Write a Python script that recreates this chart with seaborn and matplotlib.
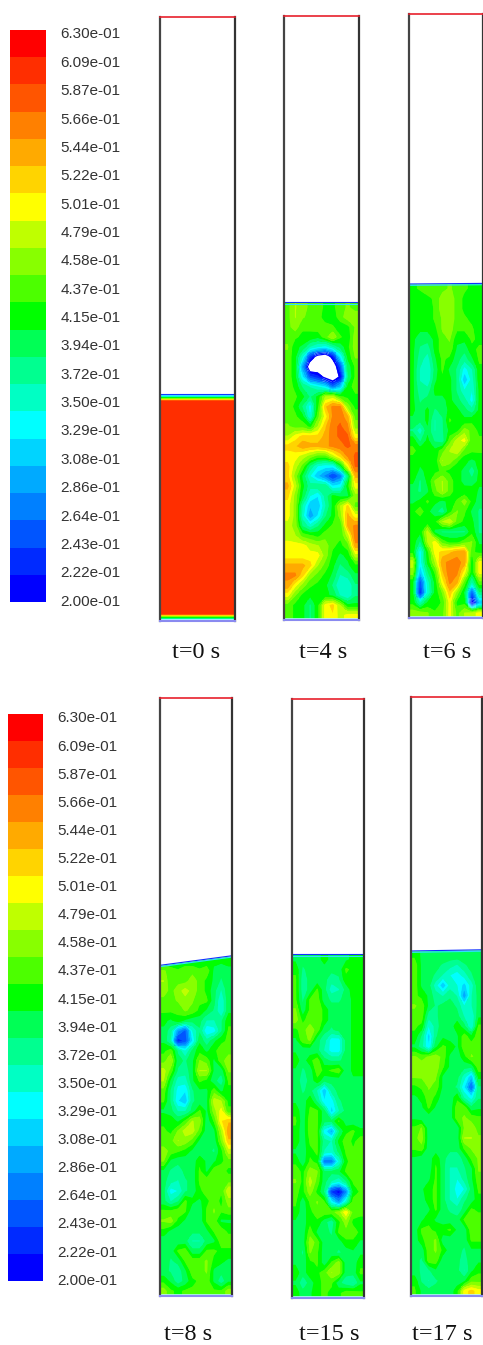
import numpy as np
import matplotlib
matplotlib.use('Agg')
import matplotlib.pyplot as plt
from matplotlib.colors import ListedColormap, BoundaryNorm
import seaborn as sns

# legend labels and the colours of the contour bands, top to bottom
legend_labels = ['6.30e-01', '6.09e-01', '5.87e-01', '5.66e-01', '5.44e-01', '5.22e-01', '5.01e-01',
                 '4.79e-01', '4.58e-01', '4.37e-01', '4.15e-01', '3.94e-01', '3.72e-01', '3.50e-01',
                 '3.29e-01', '3.08e-01', '2.86e-01', '2.64e-01', '2.43e-01', '2.22e-01', '2.00e-01']
legend_values = [float(s) for s in legend_labels]
band_colors = ['#ff0000', '#ff2e00', '#ff5500', '#ff8000', '#ffaa00', '#ffd400', '#ffff00',
               '#bfff00', '#88ff00', '#4cff00', '#00ff00', '#00ff55', '#00ff90', '#00ffc4',
               '#00ffff', '#00d4ff', '#00aaff', '#0080ff', '#0055ff', '#002aff', '#0000ff']

# volume fraction x100 (top of bed first). 15 = below range, not drawn
t0_void = [21, 33, 42, 50] + [61] * 142 + [50, 42, 36, 30]

t4_void = [
    [44, 47, 46, 44, 44, 42, 42, 44, 45, 44],
    [44, 47, 45, 44, 44, 41, 41, 44, 46, 46],
    [44, 46, 43, 43, 44, 44, 43, 41, 42, 45],
    [44, 43, 42, 42, 41, 44, 47, 43, 41, 46],
    [45, 41, 40, 36, 34, 33, 36, 39, 42, 46],
    [44, 41, 34, 23, 17, 15, 21, 32, 41, 45],
    [44, 41, 28, 15, 15, 15, 15, 24, 39, 43],
    [44, 41, 32, 24, 22, 18, 15, 20, 38, 43],
    [44, 42, 38, 36, 34, 32, 26, 30, 41, 44],
    [44, 43, 41, 38, 41, 47, 48, 43, 42, 42],
    [44, 42, 38, 33, 42, 53, 56, 56, 46, 42],
    [44, 43, 41, 34, 44, 50, 56, 57, 54, 44],
    [45, 44, 44, 42, 47, 53, 57, 58, 56, 46],
    [47, 50, 52, 52, 52, 54, 57, 58, 58, 50],
    [52, 53, 55, 54, 54, 55, 56, 57, 58, 57],
    [50, 50, 48, 46, 44, 44, 48, 52, 56, 58],
    [52, 48, 44, 38, 34, 33, 33, 40, 50, 58],
    [52, 46, 40, 34, 30, 27, 23, 26, 38, 54],
    [54, 48, 41, 37, 38, 38, 32, 33, 42, 50],
    [52, 46, 40, 34, 32, 37, 41, 40, 40, 46],
    [50, 46, 36, 30, 30, 36, 41, 47, 52, 44],
    [50, 46, 35, 28, 32, 38, 41, 46, 54, 50],
    [48, 46, 38, 35, 38, 41, 43, 43, 54, 56],
    [48, 47, 44, 43, 42, 44, 44, 43, 48, 57],
    [50, 50, 50, 48, 47, 46, 43, 42, 44, 55],
    [50, 50, 50, 50, 50, 46, 42, 40, 41, 48],
    [54, 54, 54, 52, 47, 44, 41, 38, 40, 42],
    [56, 56, 52, 46, 44, 42, 40, 36, 37, 40],
    [55, 50, 46, 43, 42, 41, 38, 34, 34, 38],
    [50, 45, 42, 41, 41, 41, 40, 36, 34, 38],
    [44, 42, 41, 38, 42, 50, 52, 47, 41, 41],
    [44, 42, 41, 38, 42, 50, 51, 48, 50, 50],
]

t6_void = [
    [42, 43, 44, 44, 44, 45, 44, 43, 42, 42],
    [41, 41, 42, 43, 46, 46, 44, 42, 41, 41],
    [41, 41, 41, 43, 46, 46, 44, 42, 41, 41],
    [41, 41, 41, 43, 45, 46, 44, 43, 42, 41],
    [41, 41, 41, 42, 45, 46, 43, 43, 43, 41],
    [41, 39, 39, 41, 44, 45, 41, 41, 43, 42],
    [41, 38, 37, 41, 44, 44, 40, 39, 42, 43],
    [41, 37, 35, 40, 43, 42, 39, 37, 40, 43],
    [41, 36, 34, 39, 43, 40, 38, 33, 36, 42],
    [41, 36, 34, 40, 42, 41, 38, 30, 35, 42],
    [41, 37, 37, 41, 41, 41, 38, 34, 34, 41],
    [41, 38, 39, 40, 40, 41, 39, 37, 33, 41],
    [41, 39, 41, 38, 39, 41, 41, 39, 37, 41],
    [40, 39, 41, 36, 38, 43, 41, 41, 42, 41],
    [38, 35, 40, 36, 38, 41, 42, 46, 44, 42],
    [42, 38, 41, 38, 37, 44, 48, 50, 43, 43],
    [43, 42, 41, 41, 44, 47, 49, 44, 43, 43],
    [42, 41, 41, 41, 47, 46, 43, 41, 40, 41],
    [42, 40, 41, 42, 43, 42, 41, 40, 37, 41],
    [41, 38, 41, 45, 47, 44, 41, 40, 39, 41],
    [39, 38, 40, 44, 47, 44, 41, 41, 42, 40],
    [40, 41, 43, 41, 40, 41, 43, 46, 42, 39],
    [42, 44, 41, 39, 37, 42, 45, 43, 40, 38],
    [41, 41, 41, 42, 47, 49, 44, 42, 41, 38],
    [42, 41, 48, 40, 38, 38, 38, 38, 42, 38],
    [42, 38, 47, 50, 44, 42, 42, 44, 45, 40],
    [42, 33, 42, 50, 52, 53, 55, 55, 43, 42],
    [48, 33, 41, 47, 55, 56, 56, 55, 41, 50],
    [46, 30, 38, 43, 53, 57, 56, 50, 41, 50],
    [41, 24, 35, 41, 50, 56, 54, 44, 36, 44],
    [41, 22, 34, 41, 45, 53, 46, 40, 25, 38],
    [42, 36, 41, 41, 43, 50, 42, 42, 18, 30],
    [46, 46, 45, 43, 44, 50, 44, 47, 48, 50],
]

t8_void = [
    [41, 40, 40, 41, 41, 41, 41, 41, 41, 41],
    [45, 44, 43, 44, 44, 43, 44, 40, 39, 40],
    [47, 43, 44, 44, 46, 44, 42, 40, 38, 40],
    [46, 44, 46, 48, 46, 44, 42, 39, 36, 40],
    [44, 44, 45, 46, 45, 43, 43, 39, 34, 40],
    [43, 43, 43, 45, 44, 42, 40, 38, 34, 40],
    [41, 40, 42, 40, 39, 39, 36, 36, 38, 42],
    [40, 37, 28, 25, 34, 38, 32, 33, 38, 43],
    [40, 36, 22, 24, 32, 40, 37, 40, 42, 43],
    [42, 44, 38, 34, 39, 42, 40, 42, 44, 44],
    [44, 47, 39, 38, 40, 45, 44, 40, 44, 46],
    [48, 44, 38, 37, 40, 47, 47, 40, 39, 45],
    [47, 40, 35, 35, 40, 43, 42, 39, 37, 43],
    [44, 38, 33, 32, 38, 40, 40, 44, 40, 42],
    [43, 38, 32, 30, 38, 39, 40, 48, 47, 42],
    [40, 39, 36, 36, 39, 43, 40, 46, 50, 43],
    [42, 42, 40, 43, 47, 46, 39, 43, 51, 53],
    [43, 42, 45, 48, 48, 44, 39, 40, 47, 55],
    [43, 44, 47, 46, 44, 40, 39, 39, 45, 53],
    [46, 44, 43, 42, 40, 39, 39, 38, 42, 48],
    [45, 40, 39, 39, 39, 42, 40, 40, 42, 44],
    [40, 38, 37, 39, 39, 43, 40, 44, 44, 42],
    [39, 37, 36, 38, 39, 43, 44, 44, 44, 44],
    [39, 33, 34, 38, 39, 42, 44, 44, 43, 49],
    [39, 36, 38, 43, 41, 40, 42, 44, 42, 46],
    [43, 43, 44, 43, 39, 39, 43, 45, 43, 44],
    [45, 46, 42, 40, 39, 39, 43, 44, 40, 40],
    [42, 40, 39, 39, 39, 39, 40, 43, 44, 42],
    [39, 39, 39, 39, 36, 36, 39, 40, 44, 44],
    [39, 39, 43, 44, 39, 39, 43, 43, 42, 42],
    [40, 38, 39, 43, 44, 44, 45, 42, 41, 40],
    [39, 38, 37, 40, 44, 44, 45, 40, 39, 40],
    [42, 40, 37, 39, 42, 43, 44, 40, 37, 40],
    [46, 43, 42, 43, 43, 43, 43, 43, 43, 46],
]

t15_void = [
    [40, 39, 39, 39, 42, 39, 39, 40, 41, 41],
    [42, 38, 39, 39, 39, 39, 39, 43, 42, 41],
    [43, 37, 39, 39, 39, 37, 38, 42, 42, 41],
    [43, 37, 39, 43, 39, 35, 36, 39, 42, 41],
    [43, 38, 43, 44, 39, 38, 38, 39, 41, 41],
    [45, 39, 43, 44, 42, 39, 39, 39, 41, 41],
    [46, 42, 44, 44, 42, 39, 39, 39, 41, 41],
    [42, 44, 46, 44, 39, 38, 39, 39, 41, 41],
    [40, 44, 45, 39, 37, 33, 33, 39, 41, 41],
    [40, 39, 39, 39, 36, 33, 33, 39, 41, 41],
    [42, 39, 42, 44, 39, 38, 38, 39, 41, 41],
    [40, 38, 39, 44, 42, 43, 44, 39, 41, 41],
    [40, 37, 39, 42, 39, 39, 39, 39, 40, 40],
    [40, 38, 39, 36, 30, 37, 39, 39, 39, 39],
    [40, 39, 42, 38, 32, 33, 38, 39, 39, 39],
    [42, 39, 43, 43, 39, 31, 36, 39, 39, 39],
    [43, 39, 44, 43, 39, 39, 43, 39, 39, 39],
    [42, 39, 44, 43, 33, 29, 38, 42, 43, 41],
    [42, 39, 43, 43, 37, 36, 41, 44, 42, 44],
    [40, 39, 42, 43, 36, 35, 39, 43, 43, 43],
    [42, 39, 43, 42, 26, 26, 34, 42, 44, 43],
    [44, 42, 46, 45, 39, 39, 40, 43, 44, 43],
    [45, 42, 48, 44, 39, 36, 34, 38, 43, 44],
    [43, 42, 46, 42, 38, 23, 20, 27, 41, 43],
    [43, 39, 43, 45, 43, 33, 28, 35, 44, 44],
    [42, 39, 42, 44, 44, 44, 46, 51, 44, 43],
    [40, 39, 42, 42, 39, 37, 42, 46, 42, 42],
    [40, 39, 44, 40, 39, 38, 43, 44, 44, 42],
    [40, 39, 46, 44, 39, 39, 39, 42, 42, 40],
    [40, 38, 45, 43, 39, 39, 38, 39, 40, 40],
    [40, 39, 42, 43, 39, 43, 46, 39, 39, 42],
    [42, 39, 42, 42, 44, 47, 46, 39, 39, 43],
    [40, 37, 39, 42, 43, 43, 39, 37, 36, 40],
    [42, 39, 40, 42, 43, 42, 42, 44, 44, 43],
]

t17_void = [
    [42, 40, 40, 40, 40, 40, 40, 40, 40, 40],
    [44, 40, 39, 39, 38, 37, 36, 38, 39, 40],
    [44, 40, 39, 38, 36, 34, 33, 35, 38, 40],
    [44, 40, 39, 35, 30, 35, 34, 31, 35, 40],
    [43, 42, 40, 37, 36, 38, 36, 28, 36, 39],
    [45, 44, 40, 38, 39, 39, 38, 34, 36, 39],
    [44, 44, 37, 38, 39, 39, 39, 36, 34, 40],
    [43, 42, 34, 37, 40, 39, 42, 39, 34, 43],
    [42, 38, 31, 38, 40, 39, 40, 44, 41, 44],
    [40, 37, 32, 40, 43, 42, 40, 44, 44, 44],
    [45, 44, 45, 46, 44, 40, 39, 42, 45, 44],
    [45, 46, 46, 46, 43, 40, 39, 39, 39, 44],
    [45, 45, 45, 45, 40, 39, 39, 35, 30, 41],
    [42, 43, 45, 44, 40, 39, 38, 32, 25, 38],
    [40, 41, 44, 42, 39, 39, 42, 36, 33, 38],
    [40, 40, 43, 40, 39, 39, 44, 44, 39, 40],
    [40, 39, 39, 39, 39, 39, 44, 45, 44, 43],
    [43, 45, 39, 39, 39, 39, 39, 45, 46, 44],
    [44, 46, 39, 39, 39, 39, 39, 47, 47, 45],
    [43, 44, 39, 39, 39, 39, 39, 43, 45, 46],
    [40, 39, 39, 42, 39, 37, 37, 39, 43, 45],
    [39, 39, 39, 43, 39, 36, 36, 38, 40, 45],
    [39, 39, 40, 43, 39, 36, 34, 37, 40, 44],
    [39, 40, 42, 43, 39, 36, 33, 34, 39, 43],
    [39, 39, 42, 43, 39, 36, 34, 38, 39, 42],
    [39, 39, 40, 43, 39, 38, 37, 39, 43, 42],
    [39, 40, 42, 40, 39, 39, 39, 43, 44, 44],
    [39, 43, 43, 42, 42, 43, 40, 39, 44, 44],
    [39, 42, 44, 45, 39, 39, 39, 39, 43, 43],
    [39, 39, 44, 45, 42, 39, 39, 38, 40, 40],
    [39, 38, 44, 44, 39, 39, 39, 37, 40, 40],
    [39, 38, 38, 40, 39, 39, 39, 36, 40, 42],
    [42, 38, 36, 38, 39, 39, 39, 40, 44, 44],
    [43, 40, 39, 39, 39, 39, 42, 50, 52, 50],
]

# bed height as a fraction of the column, at the left and right wall
t0_bed = [0.376, 0.376]
t4_bed = [0.526, 0.526]
t6_bed = [0.553, 0.554]
t8_bed = [0.553, 0.569]
t15_bed = [0.574, 0.574]
t17_bed = [0.576, 0.578]
captions = ['t=0 s', 't=4 s', 't=6 s', 't=8 s', 't=15 s', 't=17 s']

W, H = 483, 1345
sns.set_style('white')
plt.rcParams['font.family'] = ['Liberation Sans', 'DejaVu Sans']

fig = plt.figure(figsize=(W / 100, H / 100), dpi=100)


def px_axes(left, top, right, bottom):
    return fig.add_axes([left / W, 1 - bottom / H, (right - left) / W, (bottom - top) / H])


# colour scale: lowest band first, anything below the range stays white
cmap = ListedColormap(band_colors[::-1])
cmap.set_under('white')
cmap.set_over('white')
edges = np.linspace(0.18925, 0.64075, 22)
norm = BoundaryNorm(edges, cmap.N)


def draw_legend(box):
    ax = px_axes(*box)
    values = np.array(legend_values).reshape(-1, 1)
    sns.heatmap(values, ax=ax, cmap=cmap, norm=norm, cbar=False, xticklabels=False, yticklabels=False)
    ax.yaxis.tick_right()
    ax.set_yticks(np.linspace(0.11, 20.93, 21))
    ax.set_yticklabels(legend_labels, rotation=0, fontsize=11, color='#333333')
    ax.tick_params(axis='y', length=0, pad=10.5)


def draw_column(box, void, bed, caption, caption_x, caption_y):
    ax = px_axes(*box)
    data = np.array(void, dtype=float) / 100
    if data.ndim == 1:
        data = data.reshape(-1, 1)
    rows, cols = data.shape
    sns.heatmap(data, ax=ax, cmap=cmap, norm=norm, cbar=False, xticklabels=False, yticklabels=False)

    # same grid again as filled contours, carried out to the walls
    padded = np.pad(data, 1, mode='edge')
    xs = np.r_[0, np.arange(cols) + 0.5, cols]
    ys = np.r_[0, np.arange(rows) + 0.5, rows]
    ax.contourf(xs, ys, padded, levels=edges, cmap=cmap, norm=norm, extend='min', antialiased=True)

    # white space above the bed and the thin blue free surface
    hmax = max(bed)
    surface = rows * (1 - np.array(bed) / hmax)
    col_top = rows * (1 - 1 / hmax)
    ax.fill_between([0, cols], col_top, surface, color='white', lw=0, zorder=3)
    ax.plot([0, cols], surface, color='#1030ff', lw=0.8, zorder=4)
    ax.plot([0, cols], surface + rows * 0.004, color='#30e0ff', lw=0.8, zorder=4)
    ax.plot([0, cols], [rows - rows * 0.004] * 2, color='#b8f4ff', lw=1.2, zorder=4)
    ax.set_xlim(0, cols)
    ax.set_ylim(rows, col_top)

    for side, color, lw in [('left', '#444444', 1.6), ('right', '#333333', 1.6),
                            ('top', '#e8202c', 1.2), ('bottom', '#8a8af0', 1.5)]:
        ax.spines[side].set_visible(True)
        ax.spines[side].set_color(color)
        ax.spines[side].set_linewidth(lw)
        ax.spines[side].set_zorder(5)

    fig.text(caption_x / W, 1 - caption_y / H, caption, ha='center', va='center', fontsize=17.5,
             family=['Liberation Serif', 'DejaVu Serif'], color='#111111')


draw_legend((10, 30, 46, 602))
draw_legend((8, 714, 43, 1281))

draw_column((160, 17, 235, 621), t0_void, t0_bed, captions[0], 196, 652)
draw_column((284, 16, 359, 620), t4_void, t4_bed, captions[1], 323, 652)
draw_column((409, 14, 483, 618), t6_void, t6_bed, captions[2], 447, 652)
draw_column((160, 698, 232, 1296), t8_void, t8_bed, captions[3], 188, 1335)
draw_column((292, 699, 364, 1298), t15_void, t15_bed, captions[4], 329, 1335)
draw_column((411, 697, 482, 1296), t17_void, t17_bed, captions[5], 442, 1335)

fig.savefig('out.png', dpi=100)
